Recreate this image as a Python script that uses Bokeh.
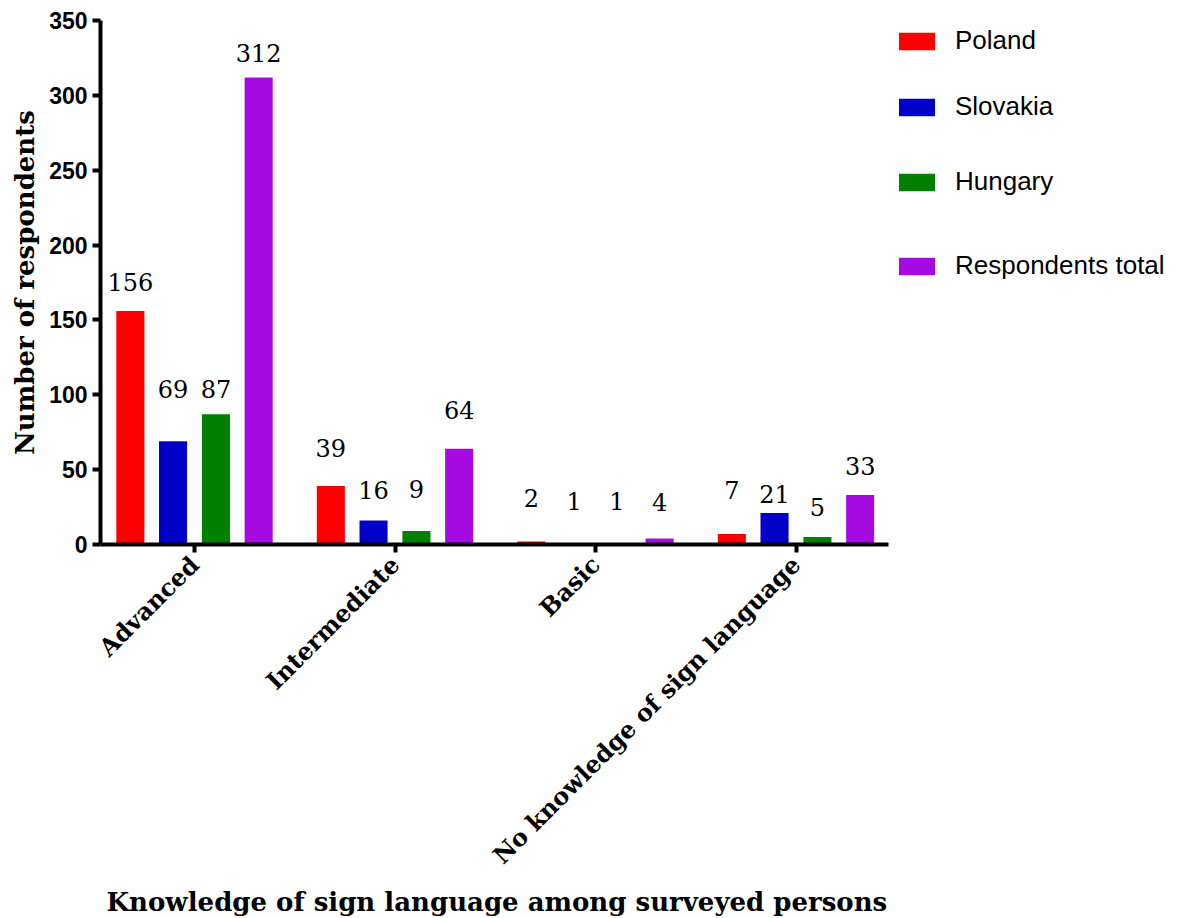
import math

from bokeh.core.properties import value
from bokeh.embed import file_html
from bokeh.models import (ColumnDataSource, FixedTicker, LabelSet, Legend,
                          LegendItem, Range1d, Title)
from bokeh.plotting import figure
from bokeh.resources import INLINE

# ---- data -----------------------------------------------------------------
categories = ["Advanced", "Intermediate", "Basic", "No knowledge of sign language"]
series_names = ["Poland", "Slovakia", "Hungary", "Respondents total"]

poland = [156, 39, 2, 7]
slovakia = [69, 16, 1, 21]
hungary = [87, 9, 1, 5]
respondents_total = [312, 64, 4, 33]

y_ticks = [0, 50, 100, 150, 200, 250, 300, 350]

x_title = "Knowledge of sign language among surveyed persons"
y_title = "Number of respondents"

# ---- styling / placement --------------------------------------------------
colors = ["#FF0000", "#0000C8", "#008000", "#A50BE0"]
bar_offsets = [-0.32, -0.107, 0.107, 0.32]
bar_width = 0.14

# distance (px) between the top of each bar and the centre of its value label
label_lift = [
    [29, 38, 44, 44],
    [52, 31, 42, 19],
    [25, 42, 42, 30],
    [24, 39, 37, 29],
]

# vertical centre (px from top of the page) of each legend row
legend_rows = [42, 108, 183, 267]

W, H = 1185, 918
LEFT, TOP, BOTTOM, AXIS_END_PX = 100, 20, 373, 888
GROUP_PX = 200.5
x_start = -(194 - LEFT) / GROUP_PX
x_end = x_start + (W - LEFT) / GROUP_PX
axis_end = (AXIS_END_PX - 194) / GROUP_PX

p = figure(
    width=W, height=H,
    x_range=Range1d(x_start, x_end), y_range=Range1d(0, 350),
    output_backend="svg", toolbar_location=None,
    min_border_left=LEFT, min_border_top=TOP,
    min_border_right=0, min_border_bottom=BOTTOM,
)
p.outline_line_color = None
p.xgrid.visible = False
p.ygrid.visible = False
p.background_fill_color = "white"
p.border_fill_color = "white"

values = [poland, slovakia, hungary, respondents_total]
renderers = []
for k, (name, vals) in enumerate(zip(series_names, values)):
    src = ColumnDataSource(dict(
        x=[i + bar_offsets[k] for i in range(len(categories))],
        top=vals,
        label=[str(v) for v in vals],
        lift=label_lift[k],
    ))
    r = p.vbar(x="x", top="top", bottom=0, width=bar_width, source=src,
               fill_color=colors[k], line_color=None)
    renderers.append(r)
    p.add_layout(LabelSet(
        x="x", y="top", text="label", source=src, y_offset="lift",
        text_align="center", text_baseline="middle",
        text_font=value("DejaVu Serif"), text_font_size=value("24px"),
        text_color="black",
    ))

# ---- axes -----------------------------------------------------------------
yax = p.yaxis[0]
yax.ticker = FixedTicker(ticks=y_ticks, minor_ticks=[])
yax.axis_line_width = 4
yax.major_tick_line_width = 4
yax.major_tick_out = 8
yax.major_tick_in = 0
yax.minor_tick_line_color = None
yax.major_label_standoff = 5
yax.major_label_text_font = "Liberation Sans"
yax.major_label_text_font_style = "bold"
yax.major_label_text_font_size = "23px"
yax.major_label_text_color = "black"
yax.axis_label = y_title
yax.axis_label_text_font = "DejaVu Serif"
yax.axis_label_text_font_style = "bold"
yax.axis_label_text_font_size = "26px"
yax.axis_label_text_color = "black"
yax.axis_label_standoff = 6

xax = p.xaxis[0]
xax.ticker = FixedTicker(ticks=list(range(len(categories))), minor_ticks=[])
xax.major_label_overrides = {i: c for i, c in enumerate(categories)}
xax.bounds = (x_start, axis_end)
xax.major_label_orientation = math.pi / 4
xax.axis_line_width = 4
xax.major_tick_line_width = 4
xax.major_tick_out = 8
xax.major_tick_in = 0
xax.minor_tick_line_color = None
xax.major_label_standoff = 8
xax.major_label_text_font = "DejaVu Serif"
xax.major_label_text_font_style = "bold"
xax.major_label_text_font_size = "24px"
xax.major_label_text_color = "black"

# x title sits under the axis span (not the whole frame, which also holds the legend)
p.add_layout(Title(
    text=x_title, align="left", offset=6, standoff=4,
    text_font="DejaVu Serif", text_font_style="bold", text_font_size="26px",
    text_color="black",
), "below")

# ---- legend: one box per row so the rows can sit at their own heights ----
frame_h = H - TOP - BOTTOM
row_h = 30
for k, name in enumerate(series_names):
    leg = Legend(
        items=[LegendItem(label=name, renderers=[renderers[k]])],
        location=(794, frame_h - (legend_rows[k] - TOP) - row_h / 2),
        border_line_color=None, background_fill_alpha=0,
        padding=0, margin=0, spacing=0,
        glyph_width=45, glyph_height=22, label_height=row_h,
        label_standoff=16,
        label_text_font="Liberation Sans", label_text_font_size="26px",
        label_text_color="black",
    )
    p.add_layout(leg, "center")

open("out.html", "w").write(file_html(p, INLINE))
